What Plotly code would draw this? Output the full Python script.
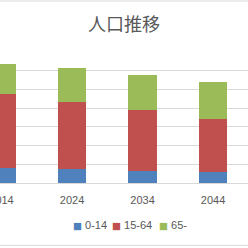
import plotly.graph_objects as go

years = ["2014", "2024", "2034", "2044"]
age_0_14 = [16.5, 15.4, 12.9, 11.5]
age_15_64 = [78.2, 71.0, 65.3, 56.8]
age_65_plus = [32.5, 36.4, 37.2, 39.6]
series_names = ["0-14", "15-64", "65-"]
colors = ["#4F81BD", "#C0504D", "#9BBB59"]
title_text = "人口推移"

W, H = 248, 248
T, B = 52, 65

fig = go.Figure()
for name, vals, col in zip(series_names, [age_0_14, age_15_64, age_65_plus], colors):
    fig.add_trace(go.Bar(x=years, y=vals, name=name, marker=dict(color=col, line=dict(width=0)),
                         width=0.4, showlegend=False))

plot_h = H - T - B
def py(pix):
    return (H - B - pix) / plot_h

# legend drawn as text items
legend_x = [71, 110, 157]
for name, col, x in zip(series_names, colors, legend_x):
    fig.add_annotation(
        text=f'<span style="color:{col};font-family:DejaVu Sans;font-size:9.5px">■</span> {name}',
        x=x / W, xref="paper", xanchor="left", y=py(224.7), yref="paper", yanchor="middle",
        showarrow=False, font=dict(family="Liberation Sans", size=11, color="#595959"))

fig.update_layout(
    width=W, height=H,
    margin=dict(l=0, r=0, t=T, b=B, pad=0),
    paper_bgcolor="white", plot_bgcolor="white",
    barmode="stack", bargap=0,
    title=dict(text=title_text, x=0.5, xanchor="center", xref="paper",
               y=1 - 25 / H, yref="container", yanchor="middle",
               font=dict(family="Noto Sans CJK JP", size=18, color="#595959")),
    xaxis=dict(type="category", range=[-0.0213, 3.496], showgrid=False,
               showline=True, linecolor="#D9D9D9", linewidth=1,
               ticks="", ticklabelstandoff=7, automargin=False,
               tickfont=dict(family="Liberation Sans", size=11, color="#595959")),
    yaxis=dict(range=[0, 140], dtick=20, showgrid=True, gridcolor="#D9D9D9", gridwidth=1,
               showticklabels=False, zeroline=False, showline=False, automargin=False),
    shapes=[
        dict(type="line", xref="paper", yref="paper", x0=0, x1=1, y0=py(1), y1=py(1),
             line=dict(color="#D9D9D9", width=1)),
        dict(type="line", xref="paper", yref="paper", x0=0, x1=1, y0=py(245.3), y1=py(245.3),
             line=dict(color="#D9D9D9", width=1)),
    ],
)

fig.write_html("out.html")
